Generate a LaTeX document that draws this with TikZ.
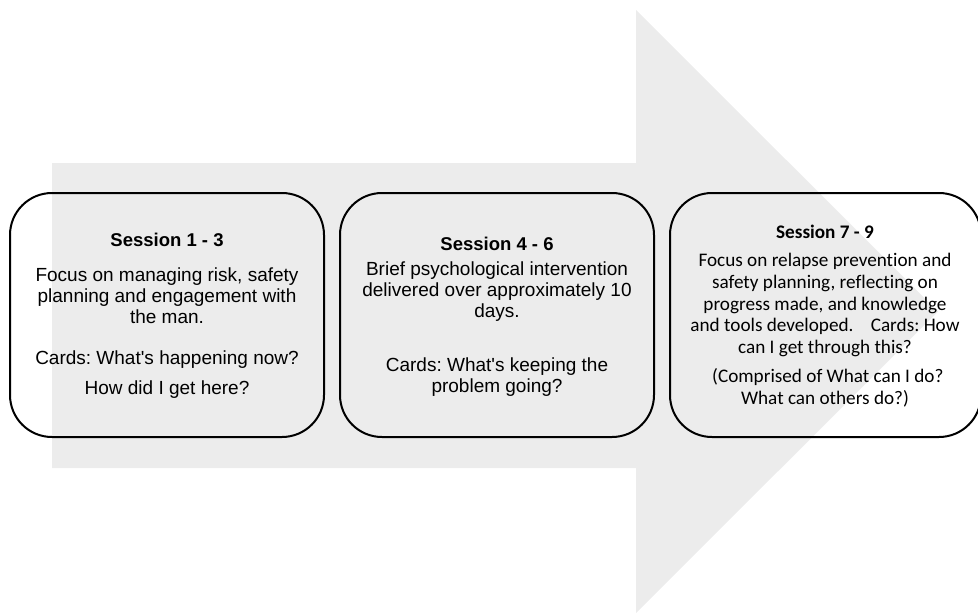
\documentclass[tikz,border=0pt]{standalone}
\usepackage{fontspec}
\setmainfont[Ligatures={NoCommon,TeXOff}]{Liberation Sans}
\newfontfamily\calfont[Ligatures={NoCommon,TeXOff}]{Carlito}
\definecolor{arrowgray}{RGB}{236,236,236}
\begin{document}
\frenchspacing
\begin{tikzpicture}[x=1pt,y=-1pt,
  sessbox/.style={draw=black,line width=2pt,rounded corners=42pt,fill=none},
  arial/.style={align=center,inner sep=0pt,font=\frenchspacing\fontsize{19}{21}\selectfont},
  arialtitle/.style={align=center,inner sep=0pt,font=\fontsize{18.5}{21}\selectfont\bfseries},
  calib/.style={align=center,inner sep=0pt,font=\frenchspacing\calfont\fontsize{19.2}{21.6}\selectfont},
  calibtitle/.style={align=center,inner sep=0pt,font=\calfont\fontsize{19.2}{21.6}\selectfont\bfseries}]
\useasboundingbox (0,0) rectangle (978,614);
% big arrow
\fill[arrowgray] (52,163) -- (636,163) -- (636,10) -- (938,311.5) -- (636,613) -- (636,468) -- (52,468) -- cycle;
% boxes
\draw[sessbox] (10,193) rectangle (324,437);
\draw[sessbox] (340,193) rectangle (654,437);
\draw[sessbox] (670,193) rectangle (981,437);
% box 1 text
\node[arialtitle] (t1) at (167,240) {Session 1 - 3};
\node[arial] (p1) at (167,296) {Focus on managing risk, safety\\planning and engagement with\\the man.};
\node[arial] (c1) at (167,360) {Cards: What's happening now?};
\node[arial] (h1) at (167,390) {How did I get here?};
% box 2 text
\node[arialtitle] (t2) at (497,244) {Session 4 - 6};
\node[arial] (p2) at (497,292) {Brief psychological intervention\\delivered over approximately 10\\days.};
\node[arial] (c2) at (497,377) {Cards: What's keeping the\\problem going?};
% box 3 text
\node[calibtitle] (t3) at (825,232) {Session 7 - 9};
\node[calib] (p3) at (825,305) {Focus on relapse prevention and\\safety planning, reflecting on\\progress made, and knowledge\\and tools developed.\hspace{0.9em}Cards: How\\can I get through this?};
\node[calib] (c3) at (825,388) {\hspace{0.3em}(Comprised of What can I do?\\What can others do?)};
\end{tikzpicture}
\end{document}
